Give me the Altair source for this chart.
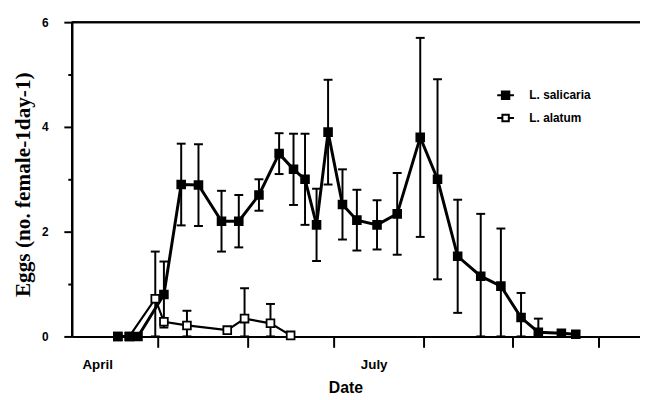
import altair as alt
import pandas as pd

# x = days since 1 April
sal_day = [16, 20, 23, 32, 38, 44, 52, 58, 65, 72, 77, 81, 85, 89, 94, 99, 106, 113, 121, 127, 134, 142, 149, 156, 162, 170, 175]
sal_mean = [0, 0, 0, 0.8, 2.9, 2.89, 2.2, 2.2, 2.7, 3.49, 3.19, 3.0, 2.13, 3.9, 2.52, 2.22, 2.13, 2.34, 3.8, 3.0, 1.53, 1.15, 0.96, 0.36, 0.08, 0.06, 0.04]
sal_se = [0, 0, 0, 0.63, 0.78, 0.78, 0.58, 0.5, 0.3, 0.39, 0.68, 0.87, 0.69, 1.0, 0.67, 0.58, 0.47, 0.78, 1.9, 1.91, 1.08, 1.19, 1.1, 0.47, 0.26, 0, 0]

ala_day = [16, 20, 29, 32, 40, 54, 60, 69, 76]
ala_mean = [0, 0, 0.72, 0.28, 0.21, 0.12, 0.34, 0.25, 0.02]
ala_se = [0, 0, 0.9, 0, 0.28, 0, 0.58, 0.37, 0]

series_names = ["L. salicaria", "L. alatum"]
month_tick_days = [30, 61, 91, 122, 153, 183]
month_labels = ["April", "July"]
month_label_days = [9, 105]

rows = []
for name, days, means, ses in [(series_names[0], sal_day, sal_mean, sal_se),
                               (series_names[1], ala_day, ala_mean, ala_se)]:
    for d, m, s in zip(days, means, ses):
        rows.append({"series": name, "day": d, "eggs": m,
                     "lo": max(0.0, m - s), "hi": m + s, "se": s})
df = pd.DataFrame(rows)
months = pd.DataFrame({"day": month_label_days, "label": month_labels})

W, H = 575, 318
xscale = alt.Scale(domain=[0, 197.3], nice=False, zero=False)
yscale = alt.Scale(domain=[0, 6], nice=False)

x_enc = alt.X("day:Q", scale=xscale,
              axis=alt.Axis(values=month_tick_days, labels=False, tickSize=11, tickWidth=2,
                            tickColor="black", domainColor="black", domainWidth=2, grid=False,
                            title="Date", titleFont="Liberation Sans", titleFontSize=16,
                            titleFontWeight="bold", titleColor="black",
                            titleX=277, titleY=52, titleAlign="center", titleBaseline="middle"))
y_enc = alt.Y("eggs:Q", scale=yscale,
              axis=alt.Axis(values=[0, 1, 2, 3, 4, 5, 6],
                            labelExpr="datum.value % 2 == 0 ? datum.label : ''",
                            tickSize={"condition": {"test": "datum.value % 2 == 0", "value": 8}, "value": 4},
                            tickWidth=2, tickColor="black", domainColor="black", domainWidth=2.5,
                            labelFont="Liberation Sans", labelFontWeight="bold", labelFontSize=12,
                            labelColor="black", labelPadding=16, grid=False,
                            title="Eggs (no. female-1day-1)", titleFont="Liberation Serif",
                            titleFontSize=21.5, titleFontWeight="bold", titleColor="black",
                            titleAngle=270, titleX=-49, titleY=164, titleAlign="center",
                            titleBaseline="middle"))

base = alt.Chart(df)

lines = base.mark_line(color="black").encode(
    x=x_enc, y=y_enc, detail="series:N",
    strokeWidth=alt.condition("datum.series == 'L. salicaria'", alt.value(3), alt.value(2.2)))

err = base.transform_filter("datum.se > 0")
rules = err.mark_rule(color="black", strokeWidth=2).encode(x="day:Q", y="lo:Q", y2="hi:Q")
caps_hi = err.mark_tick(color="black", orient="horizontal", size=9, thickness=2, opacity=1).encode(
    x="day:Q", y="hi:Q")
caps_lo = err.mark_tick(color="black", orient="horizontal", size=9, thickness=2, opacity=1).encode(
    x="day:Q", y="lo:Q")

points = base.mark_point(shape="square", filled=True, stroke="black", strokeWidth=1.8,
                         size=62, opacity=1).encode(
    x="day:Q", y="eggs:Q",
    fill=alt.condition("datum.series == 'L. salicaria'", alt.value("black"), alt.value("white")),
    order=alt.Order("series:N", sort="ascending"))

path_filled = "M-1.7,0H1.7M-0.75,-0.75H0.75V0.75H-0.75Z"
path_open = "M-1.7,0H-0.7M0.7,0H1.7M-0.65,-0.65H0.65V0.65H-0.65Z"
leg_cfg = dict(orient="none", legendX=433, legendY=68, title=None,
               labelFont="Liberation Sans", labelFontWeight="bold", labelFontSize=12,
               labelColor="black", symbolSize=100, symbolStrokeWidth=2,
               labelOffset=18, rowPadding=7)
legend_layer = base.transform_filter("false").mark_point(filled=True, opacity=1, strokeWidth=2).encode(
    x="day:Q", y="eggs:Q",
    shape=alt.Shape("series:N", scale=alt.Scale(domain=series_names, range=[path_filled, path_open]),
                    legend=alt.Legend(**leg_cfg)),
    fill=alt.Fill("series:N", scale=alt.Scale(domain=series_names, range=["black", "white"]),
                  legend=alt.Legend(**leg_cfg)),
    stroke=alt.Stroke("series:N", scale=alt.Scale(domain=series_names, range=["black", "black"]),
                      legend=alt.Legend(**leg_cfg)))

month_text = alt.Chart(months).mark_text(font="Liberation Sans", fontWeight="bold", fontSize=13.5,
                                         color="black", baseline="middle").encode(
    x="day:Q", y=alt.value(H + 29), text="label:N")

top_line = alt.Chart(months).mark_rule(color="black", strokeWidth=2).encode(y=alt.value(0))

chart = alt.layer(lines, rules, caps_hi, caps_lo, points, legend_layer, month_text, top_line).properties(
    width=W, height=H, autosize="none",
    padding={"left": 64.5, "top": 12, "right": 0, "bottom": 62}
).configure_view(stroke=None).configure(background="white")

chart.save("out.html", embed_options={"renderer": "svg", "actions": False})
